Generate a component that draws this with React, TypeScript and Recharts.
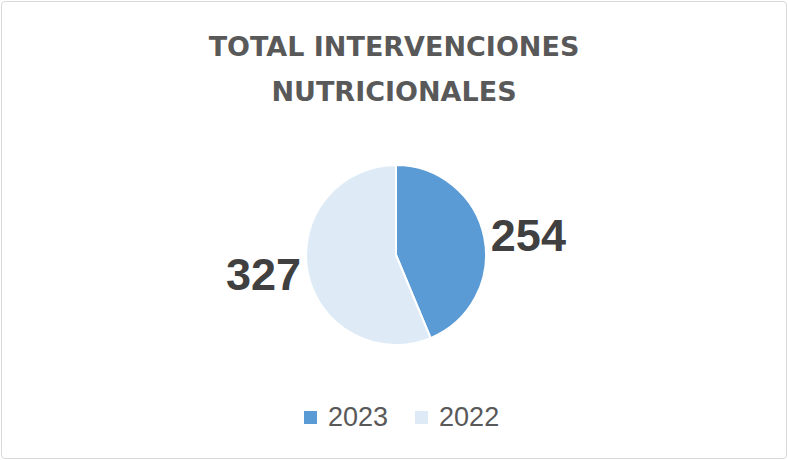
import React from 'react';
import { PieChart, Pie, Cell } from 'recharts';

const years = ['2023', '2022'];
const totals = [254, 327];
const colors = ['#5B9BD5', '#DEEBF7'];
const titleLines = ['TOTAL INTERVENCIONES', 'NUTRICIONALES'];

const data = years.map((y, i) => ({ name: y, value: totals[i] }));

const RAD = Math.PI / 180;

const renderLabel = (props: any) => {
  const { cx, cy, midAngle, value } = props;
  const x = cx + 135 * Math.cos(-midAngle * RAD);
  const y = cy + 100 * Math.sin(-midAngle * RAD);
  return (
    <text
      x={x}
      y={y}
      textAnchor="middle"
      dominantBaseline="central"
      fill="#404040"
      fontFamily="'Liberation Sans', Arial, sans-serif"
      fontWeight="bold"
      fontSize={45}
    >
      {value}
    </text>
  );
};

export default function App() {
  return (
    <div style={{ position: 'absolute', left: 0, top: 0, width: 788, height: 460, background: '#fff', fontFamily: "'Liberation Sans', Arial, sans-serif" }}>
      <div
        style={{
          position: 'absolute',
          left: 1,
          top: 1,
          width: 784,
          height: 456,
          border: '1px solid #D9D9D9',
          borderRadius: 4,
        }}
      />
      <div
        style={{
          position: 'absolute',
          left: 0,
          top: 24,
          width: 788,
          textAlign: 'center',
          color: '#595959',
          fontWeight: 'bold',
          fontFamily: "'DejaVu Sans', sans-serif",
          fontSize: 27,
          lineHeight: '45px',
        }}
      >
        {titleLines[0]}
        <br />
        {titleLines[1]}
      </div>
      <PieChart
        width={788}
        height={460}
        margin={{ top: 0, right: 0, bottom: 0, left: 0 }}
        style={{ position: 'absolute', left: 0, top: 0 }}
      >
        <Pie
          data={data}
          dataKey="value"
          nameKey="name"
          cx={396}
          cy={255}
          outerRadius={90}
          startAngle={90}
          endAngle={-270}
          stroke="#FFFFFF"
          strokeWidth={2}
          label={renderLabel}
          labelLine={false}
          isAnimationActive={false}
        >
          {data.map((d, i) => (
            <Cell key={d.name} fill={colors[i]} />
          ))}
        </Pie>
      </PieChart>
      <div
        style={{
          position: 'absolute',
          left: 304,
          top: 400,
          height: 34,
          display: 'flex',
          alignItems: 'center',
        }}
      >
        {data.map((d, i) => (
          <div key={d.name} style={{ display: 'flex', alignItems: 'center', marginLeft: i === 0 ? 0 : 27 }}>
            <div style={{ width: 13, height: 13, background: colors[i], marginRight: 11 }} />
            <span style={{ color: '#595959', fontSize: 27 }}>{d.name}</span>
          </div>
        ))}
      </div>
    </div>
  );
}
